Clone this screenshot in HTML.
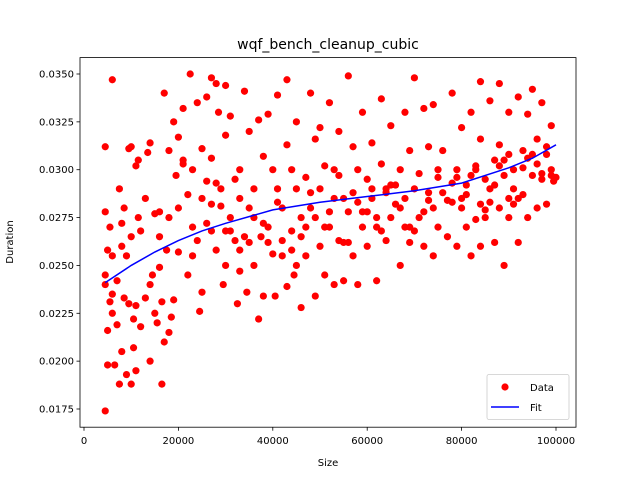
<!DOCTYPE html>
<html><head><meta charset="utf-8"><style>body{margin:0;background:#fff}svg{display:block;font-family:"DejaVu Sans","Liberation Sans",sans-serif}</style></head>
<body>
<svg id="chart" width="640" height="480"></svg>
<script>
const dataX=[4.5,4.5,4.5,4.5,4.5,5,5,5,5.5,5.5,6,6,6,6.5,7,7,7.5,7.5,8,8,8.5,8.5,9,9,9.5,9.5,10,10,10,10.5,10.5,11,11,11.5,11.5,12,12,13,13,13.5,14,14,14.5,15,15,15.5,16,16,16.5,16.5,17,17,17.5,18,18,18.5,19,19,19.5,20,20,21,21,22,22,22.5,23,23,24,24,24.5,25,25,26,26,27,27,27,28,28,28,28.5,29,29.5,30,30,30,31,31,32,32,32.5,33,33,34,34,34.5,35,35,36,36,37,37,37.5,38,38,39,39,40,40,40.5,41,41,42,42,43,43,43,44,44,44.5,45,45,46,46,47,47,48,48,49,49,50,50,50,51,51,52,52,53,53,54,54,55,55,56,56,57,57,58,58,59,59,60,60,61,61,62,62,63,63,64,64,65,65,66,67,67,68,68,69,69,70,70,71,72,72,73,73,74,74,75,75,76,77,78,78,79,79,80,80,81,81,82,82,83,83,84,84,84,85,85,86,86,87,87,88,88,88,89,89,90,90,90,91,91,92,92,93,93,94,94,95,95,96,96,97,97,98,98,99,99,99.5,
6,8,11,14,16,18,20,23,26,29,31,33,35,38,41,44,46,48,51,53,55,57,59,61,63,65,67,69,71,73,75,77,79,81,83,85,87,89,91,93,95,97,99,
25,30,36,42,47,52,56,58,62,64,66,70,74,78,80,82,86,88,92,94,96,98,
21,27,33,39,45,49,54,60,68,72,76,84,90,100];
const dataY=[0.0174,0.0312,0.0278,0.0245,0.0240,0.0258,0.0216,0.0198,0.0231,0.0270,0.0347,0.0255,0.0235,0.0198,0.0219,0.0242,0.0290,0.0188,0.0272,0.0205,0.0280,0.0233,0.0255,0.0193,0.0311,0.0230,0.0188,0.0312,0.0265,0.0207,0.0222,0.0229,0.0302,0.0305,0.0275,0.0268,0.0218,0.0285,0.0233,0.0309,0.0200,0.0314,0.0245,0.0277,0.0225,0.0220,0.0278,0.0249,0.0188,0.0231,0.0340,0.0210,0.0258,0.0275,0.0310,0.0223,0.0325,0.0232,0.0297,0.0257,0.0317,0.0332,0.0303,0.0287,0.0245,0.0350,0.0300,0.0270,0.0335,0.0263,0.0226,0.0236,0.0311,0.0338,0.0294,0.0348,0.0306,0.0268,0.0345,0.0293,0.0258,0.0330,0.0281,0.0240,0.0344,0.0318,0.0250,0.0328,0.0275,0.0295,0.0263,0.0230,0.0300,0.0247,0.0341,0.0265,0.0236,0.0320,0.0280,0.0290,0.0250,0.0326,0.0222,0.0265,0.0307,0.0234,0.0329,0.0270,0.0300,0.0256,0.0234,0.0339,0.0290,0.0263,0.0280,0.0347,0.0313,0.0239,0.0300,0.0268,0.0245,0.0325,0.0290,0.0265,0.0228,0.0296,0.0255,0.0340,0.0280,0.0316,0.0234,0.0322,0.0290,0.0260,0.0302,0.0245,0.0335,0.0270,0.0300,0.0240,0.0320,0.0263,0.0285,0.0242,0.0349,0.0278,0.0312,0.0255,0.0300,0.0240,0.0330,0.0270,0.0295,0.0260,0.0314,0.0285,0.0242,0.0275,0.0337,0.0303,0.0290,0.0263,0.0323,0.0275,0.0282,0.0300,0.0250,0.0330,0.0270,0.0310,0.0262,0.0348,0.0290,0.0275,0.0332,0.0260,0.0312,0.0284,0.0334,0.0255,0.0296,0.0270,0.0310,0.0265,0.0340,0.0283,0.0300,0.0260,0.0322,0.0280,0.0292,0.0270,0.0330,0.0255,0.0300,0.0274,0.0346,0.0316,0.0260,0.0295,0.0275,0.0336,0.0283,0.0305,0.0262,0.0345,0.0313,0.0280,0.0297,0.0250,0.0330,0.0308,0.0275,0.0300,0.0282,0.0338,0.0262,0.0310,0.0287,0.0329,0.0275,0.0342,0.0297,0.0316,0.0280,0.0335,0.0295,0.0308,0.0282,0.0323,0.0297,0.0294,
0.0225,0.0260,0.0195,0.0240,0.0265,0.0215,0.0280,0.0255,0.0272,0.0290,0.0268,0.0285,0.0262,0.0272,0.0283,0.0258,0.0275,0.0288,0.0270,0.0285,0.0262,0.0288,0.0278,0.0290,0.0268,0.0292,0.0280,0.0270,0.0298,0.0288,0.0300,0.0284,0.0296,0.0287,0.0302,0.0279,0.0292,0.0305,0.0290,0.0301,0.0308,0.0298,0.0300,
0.0285,0.0268,0.0275,0.0255,0.0270,0.0278,0.0262,0.0283,0.0270,0.0288,0.0292,0.0268,0.0280,0.0293,0.0285,0.0297,0.0290,0.0302,0.0285,0.0306,0.0303,0.0312,
0.0305,0.0282,0.0258,0.0262,0.0250,0.0275,0.0297,0.0278,0.0285,0.0278,0.0288,0.0282,0.0285,0.0296];
const fitX=[4.5,10,15,20,25,30,40,50,60,70,80,90,95,100];
const fitY=[0.0241,0.0250,0.0257,0.0263,0.0268,0.0272,0.0279,0.0283,0.0286,0.0289,0.0293,0.0301,0.0306,0.0313];
const xTicks=[0,20000,40000,60000,80000,100000];
const yTicks=[0.0175,0.0200,0.0225,0.0250,0.0275,0.0300,0.0325,0.0350];
const L=80,R=576,T=57.6,B=427.2;
const xs=v=>84+(v*1000)*0.00472;
const xsr=v=>84+v*0.00472;
const ys=v=>409-(v-0.0175)*19143;
const svg=document.getElementById('chart');const NS='http://www.w3.org/2000/svg';
function mk(t,a,p){const e=document.createElementNS(NS,t);for(const k in a)e.setAttribute(k,a[k]);(p||svg).appendChild(e);return e;}
const title=mk('text',{x:328,y:49,'text-anchor':'middle','font-size':14});title.textContent='wqf_bench_cleanup_cubic';


const pts=mk('g',{});


for(let i=0;i<dataX.length;i++){const c=mk('circle',{cx:xs(dataX[i]),cy:ys(dataY[i]),r:3.6,fill:'#ff0000'},pts);

}
const fit=mk('polyline',{points:fitX.map((x,i)=>xs(x)+','+ys(fitY[i])).join(' '),fill:'none',stroke:'#0000ff','stroke-width':1.5});


const frame=mk('rect',{x:L,y:T,width:R-L,height:B-T,fill:'none',stroke:'#000','stroke-width':0.8});


xTicks.forEach(t=>{const x=xsr(t);mk('line',{x1:x,x2:x,y1:B,y2:B+3.5,stroke:'#000','stroke-width':0.8});
const tx=mk('text',{x:x,y:B+17,'text-anchor':'middle','font-size':10});tx.textContent=t;

});
yTicks.forEach(t=>{const y=ys(t);mk('line',{x1:L-3.5,x2:L,y1:y,y2:y,stroke:'#000','stroke-width':0.8});
const tx=mk('text',{x:L-6,y:y+3.5,'text-anchor':'end','font-size':10});tx.textContent=t.toFixed(4);

});
const xl=mk('text',{x:328,y:466,'text-anchor':'middle','font-size':10});xl.textContent='Size';


const yl=mk('text',{x:0,y:0,'text-anchor':'middle','font-size':10,transform:'translate(13,242) rotate(-90)'});yl.textContent='Duration';


const lg=mk('g',{});


mk('rect',{x:487,y:374.5,width:82,height:45,rx:2,fill:'#fff','fill-opacity':0.8,stroke:'#ccc','stroke-width':0.8},lg);
mk('circle',{cx:505,cy:387,r:3.6,fill:'#ff0000'},lg);
const t1=mk('text',{x:530,y:391,'font-size':10},lg);t1.textContent='Data';


mk('line',{x1:491,x2:519,y1:407,y2:407,stroke:'#0000ff','stroke-width':1.5},lg);
const t2=mk('text',{x:530,y:411,'font-size':10},lg);t2.textContent='Fit';


</script>
</body></html>
